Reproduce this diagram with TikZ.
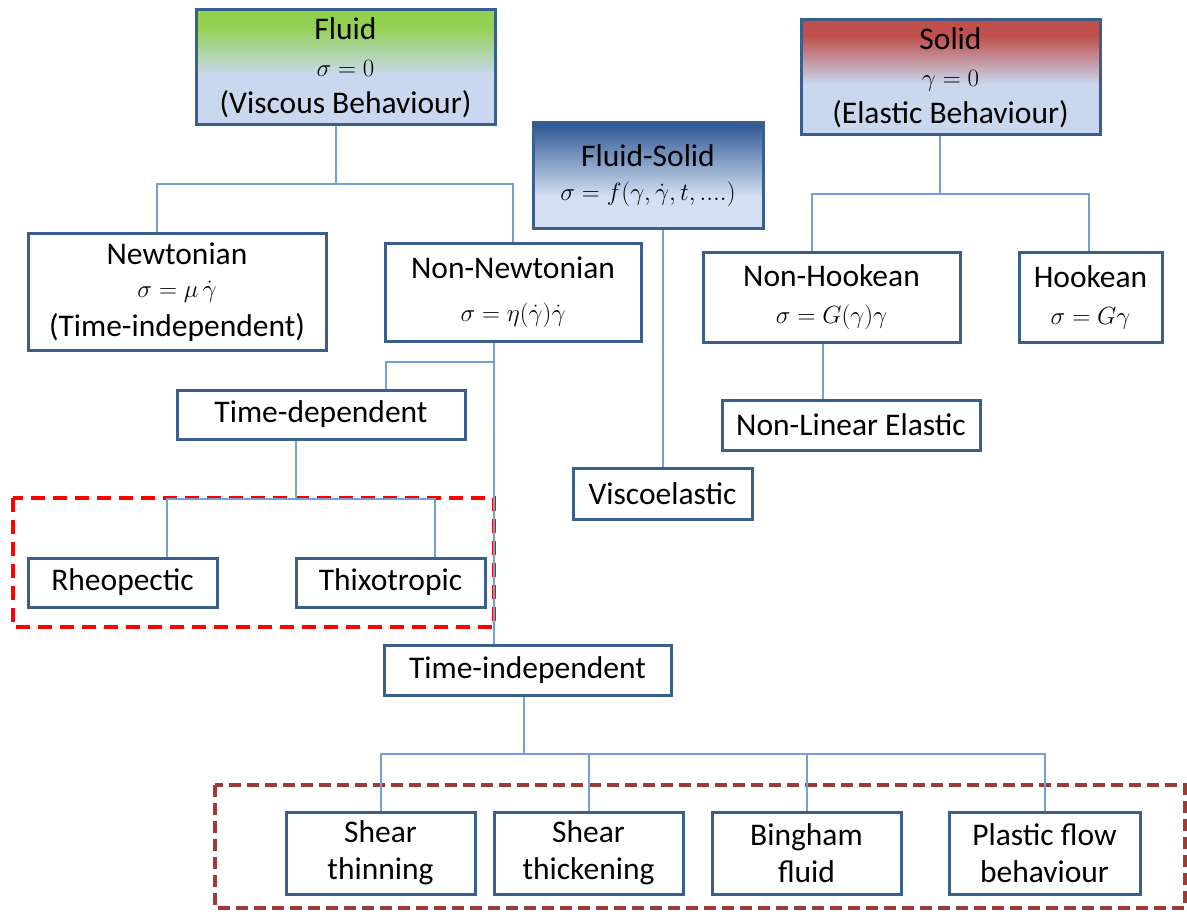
\documentclass[tikz,border=0pt]{standalone}
\usepackage{fontspec}
\setmainfont{Carlito}
\usepackage{amsmath}
\usepackage{xcolor}

\definecolor{boxblue}{HTML}{3A5F8B}
\definecolor{linkblue}{HTML}{74A0D4}
\definecolor{paleblue}{HTML}{C9D8EF}
\definecolor{fluidgreen}{HTML}{92D050}
\definecolor{solidred}{HTML}{C0504D}
\definecolor{deepblue}{HTML}{2D5893}
\definecolor{framered}{HTML}{FF0000}
\definecolor{framebrown}{HTML}{9B3B39}

\pgfdeclareverticalshading{fluidshade}{100bp}{color(0bp)=(paleblue); color(47bp)=(paleblue); color(68bp)=(fluidgreen); color(100bp)=(fluidgreen)}
\pgfdeclareverticalshading{solidshade}{100bp}{color(0bp)=(paleblue); color(47bp)=(paleblue); color(68bp)=(solidred); color(100bp)=(solidred)}
\pgfdeclareverticalshading{mixshade}{100bp}{color(0bp)=(paleblue!80!white); color(40bp)=(paleblue!80!white); color(75bp)=(deepblue); color(100bp)=(deepblue)}

\newcommand{\boxfont}{\fontsize{31.5}{37}\selectfont}
\newcommand{\eqfont}{\fontsize{24}{28}\selectfont}

\begin{document}
\begin{tikzpicture}[x=1pt, y=-1pt,
    box/.style={draw=boxblue, line width=3pt, fill=white, inner sep=0pt, align=center, font=\boxfont},
    link/.style={draw=linkblue, line width=2pt},
    groupframe/.style={line width=4pt, dash pattern=on 14pt off 8pt}]
    \useasboundingbox (0,0) rectangle (1187,912);

    % group frames
    \draw[groupframe, framered] (13,498) rectangle (494,627);
    \draw[groupframe, framebrown, line width=3.5pt, dash pattern=on 12pt off 6pt] (215,785) rectangle (1185,908);

    % top level
    \node[box, shade, shading=fluidshade, minimum width=299, minimum height=115] (fluid) at (345.5,67.5) {Fluid\\{\eqfont$\sigma=0$}\\(Viscous Behaviour)};
    \node[box, shade, shading=solidshade, minimum width=299, minimum height=115] (solid) at (950.5,77.5) {Solid\\{\eqfont$\gamma=0$}\\(Elastic Behaviour)};
    \node[box, shade, shading=mixshade, minimum width=230, minimum height=106] (fsolid) at (648,176) {Fluid-Solid\\[-3pt]{\eqfont$\sigma=f(\gamma,\dot{\gamma},t,....)$}};

    % fluid branch
    \node[box, minimum width=298, minimum height=116] (newt) at (177,292) {Newtonian\\[-4pt]{\eqfont$\sigma=\mu\,\dot{\gamma}$}\\[2pt](Time-independent)};
    \node[box, minimum width=256, minimum height=97] (nonnewt) at (513,292.5) {Non-Newtonian\\[6pt]{\eqfont$\sigma=\eta(\dot{\gamma})\dot{\gamma}$}};
    \node[box, minimum width=288, minimum height=49] (timedep) at (321,414.5) {Time-dependent};
    \node[box, minimum width=189, minimum height=49] (rheo) at (122.5,582.5) {Rheopectic};
    \node[box, minimum width=189, minimum height=49] (thixo) at (390.5,582.5) {Thixotropic};
    \node[box, minimum width=287, minimum height=50] (timeind) at (527.5,670) {Time-independent};
    \node[box, minimum width=189, minimum height=82] (thin) at (380.5,853) {Shear\\thinning};
    \node[box, minimum width=189, minimum height=82] (thick) at (588.5,853) {Shear\\thickening};
    \node[box, minimum width=189, minimum height=82] (bingham) at (806.5,853) {Bingham\\fluid};
    \node[box, minimum width=191, minimum height=82] (plastic) at (1044.5,853) {Plastic flow\\behaviour};

    % fluid-solid branch
    \node[box, minimum width=179, minimum height=51] (visco) at (662.5,493.5) {Viscoelastic};

    % solid branch
    \node[box, minimum width=257, minimum height=89] (nonhook) at (831.5,297.5) {Non-Hookean\\{\eqfont$\sigma=G(\gamma)\gamma$}};
    \node[box, minimum width=143, minimum height=89] (hook) at (1090.5,297.5) {Hookean\\{\eqfont$\sigma=G\gamma$}};
    \node[box, minimum width=258, minimum height=50] (nonlin) at (851,425) {Non-Linear Elastic};

    % bus points
    \coordinate (fbus) at (336,184);
    \coordinate (sbus) at (940,194);
    \coordinate (nnbus) at (494,362);
    \coordinate (tdbus) at (296,499);
    \coordinate (tibus) at (524,754);

    % links
    \draw[link] (fluid.south -| fbus) -- (fbus);
    \draw[link] ([xshift=-20pt]newt.north) |- (fbus) -| (nonnewt.north);
    \draw[link] (solid.south -| sbus) -- (sbus);
    \draw[link] ([xshift=-20pt]nonhook.north) |- (sbus) -| ([xshift=-1.5pt]hook.north);
    \draw[link] (fsolid.south -| visco.north) -- (visco.north);
    \draw[link] ([xshift=-9pt]nonhook.south) -- ([xshift=-9pt]nonhook.south |- nonlin.north);
    \draw[link] (nonnewt.south -| nnbus) -- (timeind.north -| nnbus);
    \draw[link] (nnbus) -| ([xshift=65pt]timedep.north);
    \draw[link] (timedep.south -| tdbus) -- (tdbus);
    \draw[link] ([xshift=44.5pt]rheo.north) |- (tdbus) -| ([xshift=44.5pt]thixo.north);
    \draw[link] (timeind.south -| tibus) -- (tibus);
    \draw[link] (thin.north) |- (tibus) -| (plastic.north);
    \draw[link] (thick.north) -- (thick.north |- tibus);
    \draw[link] (bingham.north) -- (bingham.north |- tibus);
\end{tikzpicture}
\end{document}
